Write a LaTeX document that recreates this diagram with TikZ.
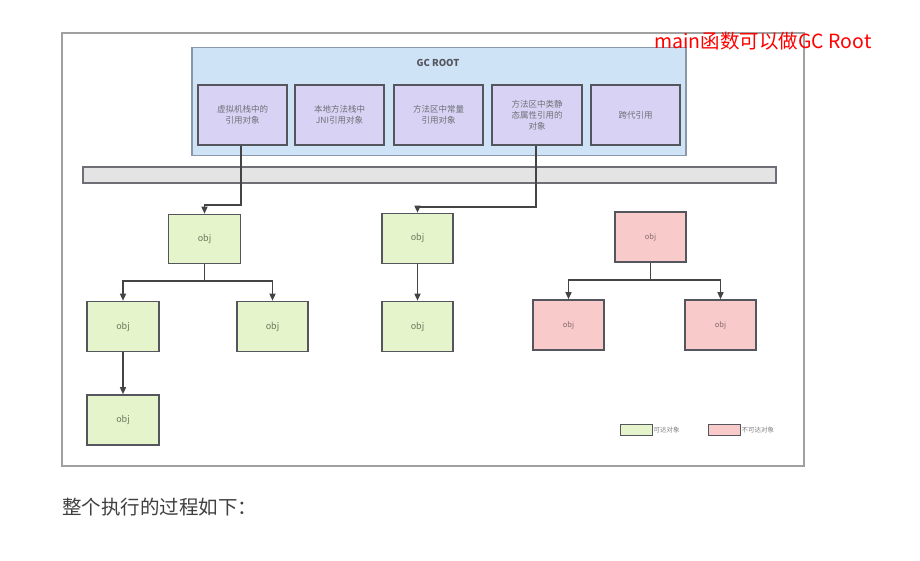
\documentclass[tikz,border=0pt]{standalone}
\usepackage{fontspec}
\setmainfont{Noto Sans CJK SC}
\usetikzlibrary{arrows.meta,calc}
\definecolor{framec}{HTML}{A0A0A0}
\definecolor{blueF}{HTML}{CFE3F7}
\definecolor{blueD}{HTML}{8A96AA}
\definecolor{lavF}{HTML}{D8D3F4}
\definecolor{boxD}{HTML}{55555E}
\definecolor{greenF}{HTML}{E6F4CC}
\definecolor{pinkF}{HTML}{F8CACA}
\definecolor{barF}{HTML}{E4E4E4}
\definecolor{txtG}{HTML}{6B7A5E}
\definecolor{txtP}{HTML}{8A6A6A}
\definecolor{lineD}{HTML}{444444}
\begin{document}
\begin{tikzpicture}[x=1pt,y=-1pt,
  rootbox/.style={draw=boxD,line width=1.6pt,fill=lavF,font=\fontsize{8.5}{11}\selectfont,text=boxD!85,align=center,inner sep=0pt},
  gobj/.style={draw=boxD,line width=1.6pt,fill=greenF,font=\fontsize{9}{11}\selectfont,text=txtG,inner sep=0pt},
  pobj/.style={draw=boxD,line width=1.6pt,fill=pinkF,font=\fontsize{7.5}{10}\selectfont,text=txtP,inner sep=0pt},
  conn/.style={draw=lineD,line width=1.4pt},
  arr/.style={conn,-{Triangle[length=7pt,width=6pt]}}]
\useasboundingbox (0,0) rectangle (920,560);
\fill[white] (0,0) rectangle (920,560);
% outer frame
\draw[framec,line width=2pt] (62,33) rectangle (804,466);
% GC ROOT container
\node[draw=blueD,line width=1.6pt,fill=blueF,minimum width=494pt,minimum height=108pt,inner sep=0pt] (gcroot) at (439,101.5) {};
\node[font=\fontsize{9.5}{11}\selectfont\bfseries,text=boxD] (gctitle) at (438,63) {GC ROOT};
\node[rootbox,minimum width=89pt,minimum height=60pt] (r1) at (242.5,115) {虚拟机栈中的\\引用对象};
\node[rootbox,minimum width=89pt,minimum height=60pt] (r2) at (339.5,115) {本地方法栈中\\JNI引用对象};
\node[rootbox,minimum width=89pt,minimum height=60pt] (r3) at (438.5,115) {方法区中常量\\引用对象};
\node[rootbox,minimum width=90pt,minimum height=60pt] (r4) at (537,115) {方法区中类静\\态属性引用的\\对象};
\node[rootbox,minimum width=89pt,minimum height=60pt] (r5) at (635.5,115) {跨代引用};
% bar
\node[draw=boxD!85,line width=1.4pt,fill=barF,minimum width=693pt,minimum height=16pt,inner sep=0pt] (bar) at (429.5,175) {};
% objects
\node[gobj,minimum width=72pt,minimum height=49pt] (o1) at (204.5,239) {obj};
\node[gobj,minimum width=72pt,minimum height=50pt] (o2) at (123,326.5) {obj};
\node[gobj,minimum width=71pt,minimum height=50pt] (o3) at (272.5,326.5) {obj};
\node[gobj,minimum width=72pt,minimum height=50pt] (o4) at (123,420) {obj};
\node[gobj,minimum width=71pt,minimum height=50pt] (o5) at (417.5,238.5) {obj};
\node[gobj,minimum width=71pt,minimum height=50pt] (o6) at (417.5,326.5) {obj};
\node[pobj,minimum width=71pt,minimum height=50pt] (p1) at (650.5,237) {obj};
\node[pobj,minimum width=71pt,minimum height=50pt] (p2) at (568.5,325) {obj};
\node[pobj,minimum width=71pt,minimum height=50pt] (p3) at (720.5,325) {obj};
% connectors
\coordinate (c1a) at (241,205);
\coordinate (c1b) at (204.5,205);
\draw[arr] (r1.south -| c1a) -- (c1a) -- (c1b) -- (o1.north);
\coordinate (c2a) at (536,207);
\coordinate (c2b) at (417.5,207);
\draw[arr] (r4.south -| c2a) -- (c2a) -- (c2b) -- (o5.north);
\coordinate (j1) at (204.5,281);
\draw[conn] (o1.south) -- (j1);
\draw[arr] (j1) -| (o2.north);
\draw[arr] (j1) -| (o3.north);
\draw[arr] (o2.south) -- (o4.north);
\draw[arr] (o5.south) -- (o6.north);
\coordinate (j2) at (650.5,280);
\draw[conn] (p1.south) -- (j2);
\draw[arr] (j2) -| (p2.north);
\draw[arr] (j2) -| (p3.north);
% legend
\node[draw=boxD,line width=1pt,fill=greenF,minimum width=32pt,minimum height=11pt,inner sep=0pt] (lg) at (636,430) {};
\node[anchor=west,font=\fontsize{6.5}{7}\selectfont,text=gray,inner sep=1pt] (lgt) at (lg.east) {可达对象};
\node[draw=boxD,line width=1pt,fill=pinkF,minimum width=32pt,minimum height=11pt,inner sep=0pt] (lp) at (724,430) {};
\node[anchor=west,font=\fontsize{6.5}{7}\selectfont,text=gray,inner sep=1pt] (lpt) at (lp.east) {不可达对象};
% annotation
\node[font=\fontsize{19.5}{22}\selectfont,text=red,inner sep=0pt] (note) at (763,41) {main函数可以做GC Root};
% caption
\node[anchor=west,font=\fontsize{19.5}{22}\selectfont,text=black!75,inner sep=0pt] (cap) at (62,507) {整个执行的过程如下：};
\end{tikzpicture}
\end{document}
